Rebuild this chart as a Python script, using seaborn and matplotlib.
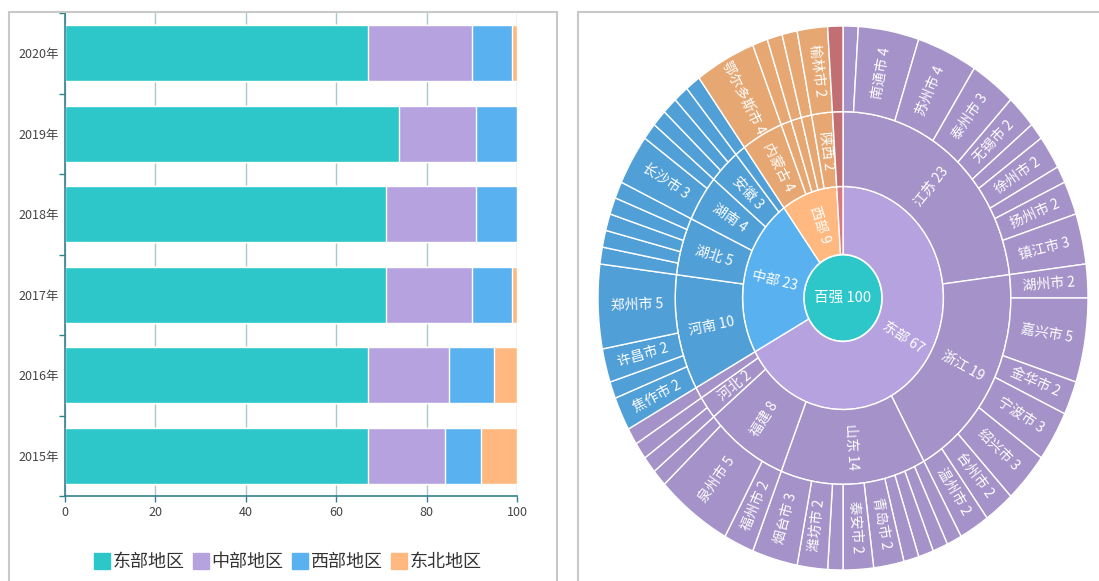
import math

import matplotlib
matplotlib.use("Agg")
import matplotlib.pyplot as plt
import numpy as np
import pandas as pd
import seaborn as sns
from matplotlib.colors import to_rgb
from matplotlib.lines import Line2D
from matplotlib.patches import Rectangle

# ---- stacked bar data (share of top-100 counties by region) ----
years = ["2020年", "2019年", "2018年", "2017年", "2016年", "2015年"]
east = [67, 74, 71, 71, 67, 67]
central = [23, 17, 20, 19, 18, 17]
west = [9, 9, 9, 9, 10, 8]
northeast = [1, 0, 0, 1, 5, 8]
region_labels = ["东部地区", "中部地区", "西部地区", "东北地区"]
bar_colors = ["#2ec7c9", "#b6a2de", "#5ab1ef", "#ffb980"]

# ---- sunburst data ----
root_name = "百强"
root_value = 100
regions = ["东部", "中部", "西部", "东北"]
region_values = [67, 23, 9, 1]
region_colors = ["#b6a2de", "#5ab1ef", "#ffb980", "#d87a80"]

provinces = ["江苏", "浙江", "山东", "福建", "河北", "广东",
             "河南", "湖北", "湖南", "安徽", "江西",
             "内蒙古", "贵州", "四川", "新疆", "陕西",
             "辽宁"]
province_values = [23, 19, 14, 8, 2, 1,
                   10, 5, 4, 3, 1,
                   4, 1, 1, 1, 2,
                   1]
province_region = ["东部", "东部", "东部", "东部", "东部", "东部",
                   "中部", "中部", "中部", "中部", "中部",
                   "西部", "西部", "西部", "西部", "西部",
                   "东北"]

cities = ["淮安市", "南通市", "苏州市", "泰州市", "无锡市", "常州市", "徐州市", "盐城市", "扬州市", "镇江市",
          "湖州市", "嘉兴市", "金华市", "宁波市", "绍兴市", "台州市", "温州市",
          "济南市", "威海市", "临沂市", "菏泽市", "青岛市", "泰安市", "济宁市", "潍坊市", "烟台市",
          "福州市", "泉州市", "漳州市",
          "石家庄市", "唐山市",
          "佛山市",
          "焦作市", "洛阳市", "许昌市", "郑州市",
          "宜昌市", "襄阳市", "黄冈市", "荆门市", "孝感市",
          "长沙市", "岳阳市",
          "合肥市", "滁州市", "阜阳市",
          "南昌市",
          "鄂尔多斯市",
          "遵义市",
          "成都市",
          "昌吉州",
          "榆林市",
          "大连市"]
city_values = [1, 4, 4, 3, 2, 1, 2, 1, 2, 3,
               2, 5, 2, 3, 3, 2, 2,
               1, 1, 1, 1, 2, 2, 1, 2, 3,
               2, 5, 1,
               1, 1,
               1,
               2, 1, 2, 5,
               1, 1, 1, 1, 1,
               3, 1,
               1, 1, 1,
               1,
               4,
               1,
               1,
               1,
               2,
               1]
city_province = ["江苏"] * 10 + ["浙江"] * 7 + ["山东"] * 9 + ["福建"] * 3 + ["河北"] * 2 + ["广东"] + \
                ["河南"] * 4 + ["湖北"] * 5 + ["湖南"] * 2 + ["安徽"] * 3 + ["江西"] + \
                ["内蒙古", "贵州", "四川", "新疆", "陕西", "辽宁"]

sns.set_theme(style="white")
plt.rcParams["font.family"] = ["Noto Sans CJK SC", "DejaVu Sans"]

W, H = 1099, 581
fig = plt.figure(figsize=(W / 100, H / 100), dpi=100)


def fig_box(x0, y0, x1, y1):
    # pixel box -> figure fraction [left, bottom, width, height]
    return [x0 / W, 1 - y1 / H, (x1 - x0) / W, (y1 - y0) / H]


def darker(c, f=0.9):
    r, g, b = to_rgb(c)
    return (r * f, g * f, b * f)


# panel frames
fig.add_artist(Rectangle((9 / W, -0.05), (557 - 9) / W, 1.05 - 12 / H, transform=fig.transFigure,
                         fill=False, edgecolor="#c8c8c8", linewidth=1.5))
fig.add_artist(Rectangle((578 / W, -0.05), 0.5, 1.05 - 12 / H, transform=fig.transFigure,
                         fill=False, edgecolor="#c8c8c8", linewidth=1.5))

# ---- left: stacked horizontal bars ----
ax = fig.add_axes(fig_box(64.5, 13, 517, 496))
df = pd.DataFrame({"year": years, "east": east, "central": central, "west": west, "northeast": northeast})
df["c1"] = df["east"]
df["c2"] = df["c1"] + df["central"]
df["c3"] = df["c2"] + df["west"]
df["c4"] = df["c3"] + df["northeast"]

# draw the longest cumulative bar first so shorter ones sit on top
for col, color in zip(["c4", "c3", "c2", "c1"], bar_colors[::-1]):
    sns.barplot(data=df, y="year", x=col, order=years, color=color, saturation=1,
                width=0.7, edgecolor="white", linewidth=1, ax=ax, orient="h")

axis_color = "#35808f"
ax.set_xlim(0, 100)
ax.set_ylim(5.5, -0.5)
ax.set_xticks([0, 20, 40, 60, 80, 100])
ax.set_yticks(range(len(years)))
ax.set_yticklabels(years)
ax.set_yticks(np.arange(-0.5, len(years), 1.0), minor=True)
ax.set_xlabel("")
ax.set_ylabel("")
ax.xaxis.grid(True, color="#a9c8cc", linewidth=1)
ax.yaxis.grid(False)
ax.set_axisbelow(True)
sns.despine(ax=ax, top=True, right=True)
for side in ["left", "bottom"]:
    ax.spines[side].set_color(axis_color)
    ax.spines[side].set_linewidth(1.2)
ax.tick_params(axis="y", which="major", length=0, labelsize=9, labelcolor="#444444", pad=4)
ax.tick_params(axis="y", which="minor", length=4, color=axis_color, width=1, left=True)
ax.tick_params(axis="x", which="major", length=4, color=axis_color, width=1, bottom=True,
               labelsize=9, labelcolor="#444444", pad=3)

handles = [Line2D([0], [0], marker="s", linestyle="", markersize=12,
                  markerfacecolor=c, markeredgecolor=c) for c in bar_colors]
ax.legend(handles, region_labels, loc="center", bbox_to_anchor=(288 / W, 1 - 562 / H),
          bbox_transform=fig.transFigure, ncol=4, frameon=False, fontsize=13,
          handlelength=0.8, handletextpad=0.2, columnspacing=0.5, borderpad=0,
          labelcolor="#333333")

# ---- right: sunburst ----
cx, cy, rx, ry = 843, 298, 245, 272
ax2 = fig.add_axes(fig_box(cx - rx, cy - ry, cx + rx, cy + ry))
radii = [0.16, 0.41, 0.685, 1.0]

prov_colors = [darker(region_colors[regions.index(r)]) for r in province_region]
city_colors = [prov_colors[provinces.index(p)] for p in city_province]

ax2.pie([root_value], radius=radii[0], colors=["#2ec7c9"], startangle=90,
        wedgeprops=dict(edgecolor="white", linewidth=1.5))

rings = [
    (regions, region_values, region_colors, radii[0], radii[1]),
    (provinces, province_values, prov_colors, radii[1], radii[2]),
    (cities, city_values, city_colors, radii[2], radii[3]),
]
for names, values, colors, r_in, r_out in rings:
    ax2.pie(values, radius=r_out, colors=colors, startangle=90, counterclock=False,
            wedgeprops=dict(width=r_out - r_in, edgecolor="white", linewidth=1))
    vals = np.array(values, dtype=float)
    mids = (np.cumsum(vals) - vals / 2) / vals.sum() * 2 * np.pi
    r_mid = (r_in + r_out) / 2
    for name, v, th in zip(names, values, mids):
        if v < 2:
            continue
        x, y = r_mid * math.sin(th), r_mid * math.cos(th)
        rot = math.degrees(math.atan2(ry * math.cos(th), rx * math.sin(th)))
        if rot > 90:
            rot -= 180
        elif rot < -90:
            rot += 180
        ax2.text(x, y, f"{name} {v}", rotation=rot, rotation_mode="anchor",
                 ha="center", va="center", color="white", fontsize=10)

ax2.text(0, 0, f"{root_name} {root_value}", ha="center", va="center", color="white", fontsize=10.5)
ax2.set_aspect("auto")
ax2.set_xlim(-1, 1)
ax2.set_ylim(-1, 1)
ax2.axis("off")

fig.savefig("out.png", dpi=100)
